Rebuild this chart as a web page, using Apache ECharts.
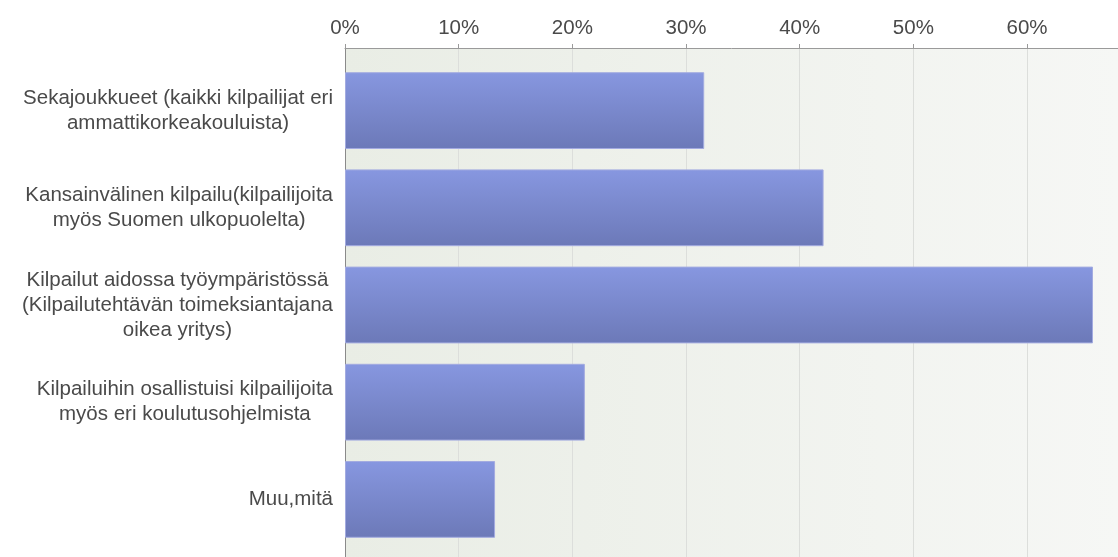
<!DOCTYPE html>
<html>
<head>
<meta charset="utf-8">
<script src="https://cdn.jsdelivr.net/npm/echarts@6/dist/echarts.min.js"></script>
<style>
	html, body { margin: 0; padding: 0; background: #fff; }
	#chart { width: 1118px; height: 557px; }
</style>
</head>
<body>
<div id="chart"></div>
<script>
var categories = [
	"Sekajoukkueet (kaikki kilpailijat eri\nammattikorkeakouluista)",
	"Kansainvälinen kilpailu(kilpailijoita\nmyös Suomen ulkopuolelta)",
	"Kilpailut aidossa työympäristössä\n(Kilpailutehtävän toimeksiantajana\noikea yritys)",
	"Kilpailuihin osallistuisi kilpailijoita\nmyös eri koulutusohjelmista",
	"Muu,mitä"
];
var values = [31.6, 42.1, 65.8, 21.1, 13.2]; //prosenttia
var axisMax = 68;
var axisStep = 10;

var font = '"Liberation Sans", Arial, sans-serif';
var chart = echarts.init(document.getElementById('chart'));

chart.setOption({
	animation: false,
	grid: [{
			//tausta + jakoviivat
			left: 345,
			right: 0,
			top: 48,
			bottom: 0,
			show: true,
			borderWidth: 0,
			backgroundColor: {
				type: 'linear', x: 0, y: 0, x2: 1, y2: 0,
				colorStops: [
					{ offset: 0, color: '#e9ede5' },
					{ offset: 1, color: '#f6f7f5' }
				]
			}
		},
		{
			//palkit
			left: 345,
			right: 0,
			top: 62,
			bottom: 9
		}
	],
	xAxis: [{
			gridIndex: 0,
			type: 'value',
			position: 'top',
			min: 0,
			max: axisMax,
			interval: axisStep,
			axisLine: { show: true, onZero: false, lineStyle: { color: '#9a9a9a', width: 1 } },
			axisTick: { show: true, length: 4, lineStyle: { color: '#9a9a9a' } },
			axisLabel: {
				margin: 9,
				color: '#4a4a4a',
				fontSize: 20.5,
				fontFamily: font,
				showMaxLabel: false,
				formatter: function(v) {
					if(v % axisStep !== 0) return '';
					return v + '%';
				}
			},
			splitLine: { show: true, lineStyle: { color: '#dcdedb', width: 1 } }
		},
		{
			gridIndex: 1,
			type: 'value',
			min: 0,
			max: axisMax,
			show: false
		}
	],
	yAxis: [{
			gridIndex: 0,
			type: 'value',
			axisLine: { show: true, onZero: false, lineStyle: { color: '#8a8a8a', width: 1 } },
			axisTick: { show: false },
			axisLabel: { show: false },
			splitLine: { show: false }
		},
		{
			gridIndex: 1,
			type: 'category',
			inverse: true,
			data: categories,
			axisLine: { show: false },
			axisTick: { show: false },
			axisLabel: {
				margin: 12,
				align: 'right',
				formatter: function(v) {
					return v.split('\n').map(function(l) {
						return '{c|' + l + '}';
					}).join('\n');
				},
				rich: {
					c: {
						align: 'center',
						color: '#4a4a4a',
						fontSize: 20.5,
						lineHeight: 25,
						fontFamily: font
					}
				}
			}
		}
	],
	series: [{
		type: 'bar',
		xAxisIndex: 1,
		yAxisIndex: 1,
		data: values,
		barCategoryGap: '21%',
		itemStyle: {
			color: {
				type: 'linear', x: 0, y: 0, x2: 0, y2: 1,
				colorStops: [
					{ offset: 0, color: '#8797e0' },
					{ offset: 1, color: '#6c79b8' }
				]
			},
			borderColor: '#a3abe0',
			borderWidth: 1
		}
	}]
});
</script>
</body>
</html>
